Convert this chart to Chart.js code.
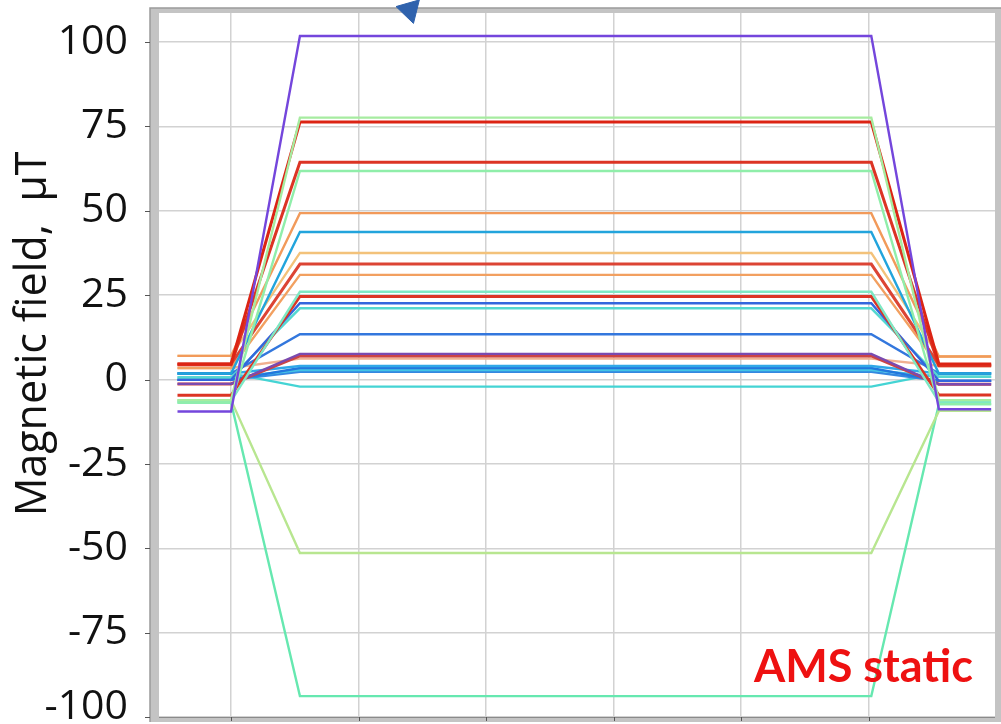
<!DOCTYPE html>
<html>
<head>
<meta charset="utf-8">
<script src="https://cdn.jsdelivr.net/npm/chart.js@4.4.1/dist/chart.umd.min.js"></script>
<style>
  html, body { margin: 0; padding: 0; background: #ffffff; }
  #wrap { width: 1001px; height: 724px; position: relative; }
</style>
</head>
<body>
<div id="wrap"><canvas id="c"></canvas></div>
<script>
// Time steps of each coil run: idle, ramp start, plateau start, plateau end, ramp end, idle
const timeSteps = [-4.2, 0, 5.4, 50.2, 55.5, 59.6];

// Field on the plateau for every sensor channel, µT
const fieldOn = [101.8, 77.6, 76.3, 64.4, 61.8, 49.3, 43.7, 37.5, 34.2, 31.0,
                 26.0, 24.6, 22.6, 21.1, 13.4, 7.6, 7.0, 6.2, 4.0, 3.4,
                 2.8, 2.3, -2.1, -51.4, -93.8];

// Residual field before switching on, µT
const fieldBefore = [-9.5, -6.1, 4.6, 4.4, -6.8, 7.0, 1.8, 7.0, 4.6, 3.4,
                     -6.4, -4.7, -0.1, 0.6, 1.8, -1.3, -1.3, 3.4, 1.8, -0.1,
                     0.6, -0.1, 1.8, -6.1, -6.8];

// Residual field after switching off, µT
const fieldAfter = [-8.8, -6.1, 4.6, 4.1, -7.3, 6.8, 1.8, 6.8, 4.4, 4.0,
                    -6.6, -4.6, -0.4, 0.8, 1.8, -1.4, -1.4, 4.1, 1.8, -0.4,
                    0.8, -0.4, 1.8, -9.3, -7.3];

// Value axis tick labels
const yTicks = [-100, -75, -50, -25, 0, 25, 50, 75, 100];

// Event marker above the plateau
const markerPoint = [{ x: 14.0, y: 109.5 }];

const lineColors = ['#7446dc', '#a6eca0', '#dc2414', '#dc3424', '#90eeaa', '#f29a5a',
                    '#22a4dc', '#f3c27a', '#dc4434', '#f2a060', '#7ee8c4', '#dc3424',
                    '#3366dd', '#55d8d0', '#3377dd', '#7a4ab0', '#cc4444', '#f0b090',
                    '#30a8e8', '#2277dd', '#44c4e4', '#3388e0', '#44d4d4', '#b8e690',
                    '#66e8b0'];

const datasets = fieldOn.map((on, i) => {
  const levels = [fieldBefore[i], fieldBefore[i], on, on, fieldAfter[i], fieldAfter[i]];
  const col = lineColors[i];
  const isRed = col.startsWith('#dc') || col.startsWith('#cc');
  return {
    label: 'ch' + (i + 1),
    data: timeSteps.map((t, k) => ({ x: t, y: levels[k] })),
    borderColor: col,
    backgroundColor: col,
    borderWidth: isRed ? 3 : 2.4,
    pointRadius: 0,
    tension: 0,
    fill: false
  };
});

datasets.unshift({
  label: 'marker',
  data: markerPoint,
  showLine: false,
  pointStyle: 'triangle',
  pointRotation: 164,
  pointRadius: 14,
  pointBackgroundColor: '#2f62ad',
  pointBorderColor: '#2f62ad',
  borderColor: '#2f62ad',
  clip: false
});

const lowestTick = Math.min(...yTicks);

// Grey plot frame with short tick marks on its outside
const framePlugin = {
  id: 'frame',
  beforeDatasetsDraw(chart) {
    const { ctx, chartArea: a, scales } = chart;
    ctx.save();
    ctx.fillStyle = '#c4c4c4';
    ctx.fillRect(a.left - 9, a.top - 5, 9, a.bottom - a.top + 10);
    ctx.fillRect(a.left - 9, a.top - 5, a.right - a.left + 15, 5);
    ctx.fillRect(a.left - 9, a.bottom, a.right - a.left + 15, 5);
    ctx.fillRect(a.right, a.top - 5, 6, a.bottom - a.top + 10);
    ctx.strokeStyle = '#9a9a9a';
    ctx.lineWidth = 1.5;
    ctx.beginPath();
    ctx.moveTo(a.left - 9, a.bottom + 5);
    ctx.lineTo(a.left - 9, a.top - 5);
    ctx.lineTo(a.right + 6, a.top - 5);
    ctx.stroke();
    ctx.strokeStyle = '#8a8a8a';
    ctx.lineWidth = 1;
    ctx.beginPath();
    ctx.moveTo(a.left, a.bottom + 0.5);
    ctx.lineTo(a.right, a.bottom + 0.5);
    ctx.stroke();
    ctx.strokeStyle = '#555555';
    ctx.beginPath();
    scales.y.ticks.forEach(t => {
      const py = Math.round(scales.y.getPixelForValue(t.value)) + 0.5;
      ctx.moveTo(a.left - 14, py);
      ctx.lineTo(a.left - 9, py);
    });
    scales.x.ticks.forEach(t => {
      const px = Math.round(scales.x.getPixelForValue(t.value)) + 0.5;
      ctx.moveTo(px, a.bottom);
      ctx.lineTo(px, a.bottom + 4);
    });
    ctx.stroke();
    ctx.restore();
  },
  afterDraw(chart) {
    const { ctx, chartArea: a, scales } = chart;
    ctx.save();
    // axis title
    ctx.translate(46, scales.y.getPixelForValue(13.5));
    ctx.rotate(-Math.PI / 2);
    ctx.font = '43px "Open Sans"';
    ctx.fillStyle = '#111111';
    ctx.textAlign = 'center';
    ctx.textBaseline = 'alphabetic';
    ctx.fillText('Magnetic field,  \u00b5T', 0, 0);
    ctx.restore();
    ctx.save();
    ctx.font = 'bold 45px Lato';
    ctx.fillStyle = '#ee1111';
    ctx.textAlign = 'right';
    ctx.textBaseline = 'alphabetic';
    ctx.fillText('AMS static', a.right - 22, a.bottom - 35);
    ctx.restore();
  }
};

new Chart(document.getElementById('c'), {
  type: 'line',
  data: { datasets },
  options: {
    responsive: true,
    maintainAspectRatio: false,
    animation: false,
    events: [],
    layout: { autoPadding: false, padding: { top: 13, right: 6, bottom: 7, left: 0 } },
    plugins: { legend: { display: false }, tooltip: { enabled: false } },
    scales: {
      x: {
        type: 'linear',
        min: -5.65,
        max: 59.9,
        ticks: { display: false, stepSize: 10, includeBounds: false },
        grid: { color: '#d2d2d2', lineWidth: 1.5, drawTicks: false },
        border: { display: false },
        afterFit: s => {
          s.height = 0;
          s.paddingLeft = 0; s.paddingRight = 0;
        }
      },
      y: {
        min: -100,
        max: 108.6,
        afterBuildTicks: s => { s.ticks = yTicks.map(v => ({ value: v })); },
        ticks: {
          padding: 31,
          color: '#111111',
          // the bottom label is lifted so it stays inside the canvas
          callback: v => (v === lowestTick ? [String(v), ''] : String(v)),
          font: c => ({
            family: '"Open Sans"',
            size: 41,
            lineHeight: c.tick && c.tick.value === lowestTick ? 0.45 : 1.2
          })
        },
        grid: { color: '#d2d2d2', lineWidth: 1.5, drawTicks: false },
        border: { display: false },
        afterFit: s => {
          s.width = 159;
          s.paddingTop = 0; s.paddingBottom = 0;
        }
      }
    }
  },
  plugins: [framePlugin]
});
</script>
</body>
</html>
